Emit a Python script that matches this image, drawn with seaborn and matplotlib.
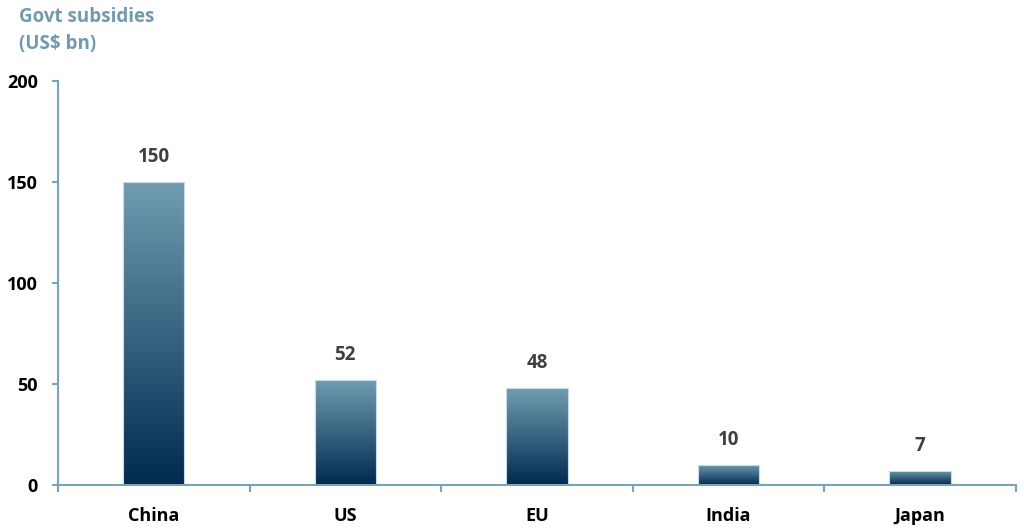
import numpy as np
import pandas as pd
import matplotlib
matplotlib.use("Agg")
import matplotlib.pyplot as plt
import seaborn as sns
from matplotlib.colors import LinearSegmentedColormap

# chart data
regions = ["China", "US", "EU", "India", "Japan"]
subsidies = [150, 52, 48, 10, 7]
y_ticks = [0, 50, 100, 150, 200]

df = pd.DataFrame({"region": regions, "subsidy": subsidies})

sns.set_theme(style="white")
plt.rcParams["font.family"] = ["Open Sans", "DejaVu Sans"]

axis_col = "#7aa3b5"
title_col = "#6f9bb0"
top_col = "#709db2"
bottom_col = "#012a50"

fig = plt.figure(figsize=(10.24, 5.28), dpi=100)
ax = fig.add_axes([0.0566, 0.0814, 0.9355, 0.7652])

sns.barplot(data=df, x="region", y="subsidy", ax=ax, width=0.32,
            color=top_col, edgecolor="#c9dce5", linewidth=0.8)

# vertical gradient inside each bar
cmap = LinearSegmentedColormap.from_list("bar_grad", [bottom_col, top_col])
grad = np.linspace(0, 1, 256).reshape(-1, 1)
for p in ax.patches:
    x0, w, h = p.get_x(), p.get_width(), p.get_height()
    im = ax.imshow(grad, cmap=cmap, origin="lower", aspect="auto",
                   extent=[x0, x0 + w, 0, h], zorder=p.get_zorder() + 0.1)
    im.set_clip_path(p)
    p.set_facecolor("none")
    ax.add_patch(plt.Rectangle((x0, 0), w, h, fill=False,
                               edgecolor="#c9dce5", linewidth=0.8,
                               zorder=p.get_zorder() + 0.2))

# value labels
for i, v in enumerate(subsidies):
    ax.text(i, v + 7.5, str(v), ha="center", va="bottom", fontsize=13.5,
            fontweight="bold", color="#404040")

ax.set_xlim(-0.5, len(regions) - 0.5)
ax.set_ylim(0, 200)
ax.set_yticks(y_ticks)
ax.set_xticks(np.arange(len(regions)))
ax.set_xticklabels(regions)
ax.set_xticks(np.arange(-0.5, len(regions)), minor=True)
ax.set_xlabel("")
ax.set_ylabel("")

for side in ["top", "right"]:
    ax.spines[side].set_visible(False)
for side in ["left", "bottom"]:
    ax.spines[side].set_color(axis_col)
    ax.spines[side].set_linewidth(1.5)

ax.tick_params(axis="y", which="major", left=True, length=4, width=1.5,
               color=axis_col, labelsize=13, pad=10.5)
ax.tick_params(axis="x", which="major", bottom=False, labelsize=13, pad=10)
ax.tick_params(axis="x", which="minor", bottom=True, length=5, width=1.5,
               color=axis_col, direction="out")
for lab in ax.get_xticklabels() + ax.get_yticklabels():
    lab.set_fontweight("bold")
    lab.set_color("black")

fig.text(0.019, 0.986, "Govt subsidies\n(US$ bn)", ha="left", va="top",
         fontsize=13.5, fontweight="bold", color=title_col, linespacing=1.45)

fig.savefig("out.png", dpi=100)
